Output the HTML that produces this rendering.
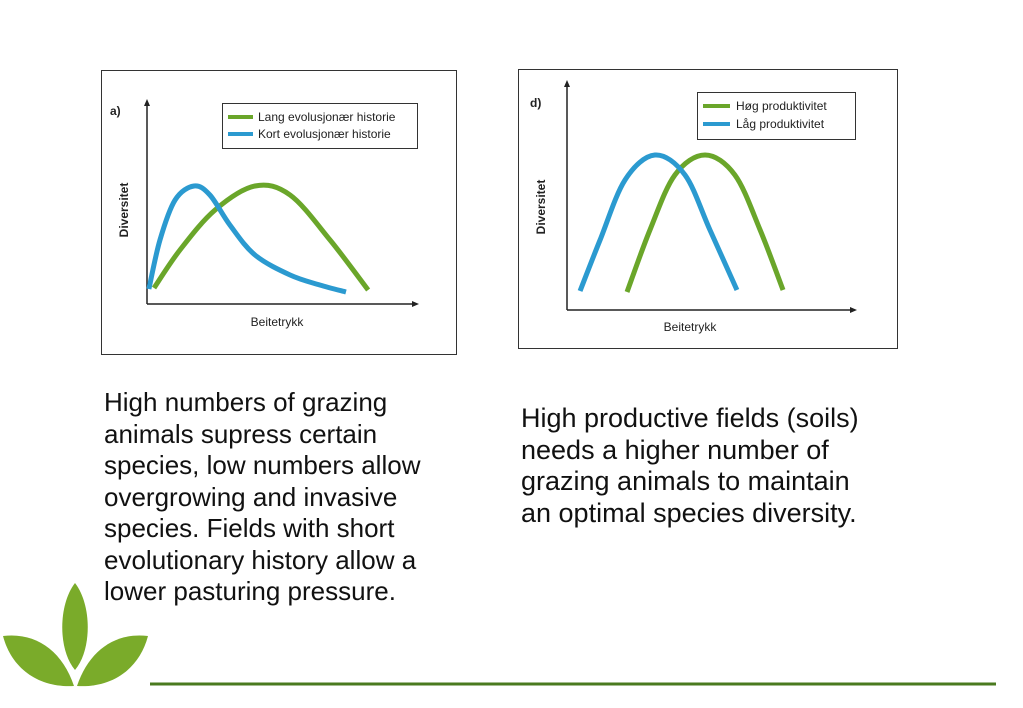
<!DOCTYPE html>
<html><head><meta charset="utf-8"><style>
body{margin:0;width:1023px;height:708px;background:#fff;position:relative;overflow:hidden;font-family:"Liberation Sans",sans-serif}
.txt{position:absolute;line-height:31.5px;color:#111;white-space:nowrap}
</style></head><body>
<svg width="1023" height="708" style="position:absolute;left:0;top:0">
<g id="ca">
<rect x="101.5" y="70.5" width="355" height="284" fill="#fff" stroke="#333"/>
<text x="110" y="115" font-size="12" font-weight="bold" fill="#222">a)</text>
<line x1="147" y1="304" x2="147" y2="104" stroke="#222" stroke-width="1.5"/><path d="M144,106 L147,99 L150,106Z" fill="#222"/>
<line x1="147" y1="304" x2="414" y2="304" stroke="#222" stroke-width="1.5"/><path d="M412,301 L419,304 L412,307Z" fill="#222"/>
<text transform="translate(128,210) rotate(-90)" text-anchor="middle" font-size="12" font-weight="bold" fill="#222">Diversitet</text>
<text x="277" y="326" text-anchor="middle" font-size="12" fill="#222">Beitetrykk</text>
<rect x="222.5" y="103.5" width="195" height="45" fill="#fff" stroke="#333"/>
<line x1="228" y1="117" x2="253" y2="117" stroke="#6aa62a" stroke-width="4"/>
<text x="258" y="121" font-size="12" fill="#222">Lang evolusjonær historie</text>
<line x1="228" y1="134" x2="253" y2="134" stroke="#2b9ad0" stroke-width="4"/>
<text x="258" y="138" font-size="12" fill="#222">Kort evolusjonær historie</text>
</g>
<g id="cd">
<rect x="518.5" y="69.5" width="379" height="279" fill="#fff" stroke="#333"/>
<text x="530" y="107" font-size="12" font-weight="bold" fill="#222">d)</text>
<line x1="567" y1="310" x2="567" y2="85" stroke="#222" stroke-width="1.5"/><path d="M564,87 L567,80 L570,87Z" fill="#222"/>
<line x1="567" y1="310" x2="852" y2="310" stroke="#222" stroke-width="1.5"/><path d="M850,307 L857,310 L850,313Z" fill="#222"/>
<text transform="translate(545,207) rotate(-90)" text-anchor="middle" font-size="12" font-weight="bold" fill="#222">Diversitet</text>
<text x="690" y="331" text-anchor="middle" font-size="12" fill="#222">Beitetrykk</text>
<rect x="697.5" y="92.5" width="158" height="47" fill="#fff" stroke="#333"/>
<line x1="703" y1="106" x2="730" y2="106" stroke="#6aa62a" stroke-width="4"/>
<text x="736" y="110" font-size="12" fill="#222">Høg produktivitet</text>
<line x1="703" y1="124" x2="730" y2="124" stroke="#2b9ad0" stroke-width="4"/>
<text x="736" y="128" font-size="12" fill="#222">Låg produktivitet</text>
</g>
<g>
<path d="M75,583 C58,605 58,650 75,670 C92,650 92,605 75,583Z" fill="#7aab2a"/>
<path d="M3,636 C35,632 62,650 74,686 C40,688 12,670 3,636Z" fill="#7aab2a"/>
<path d="M148,636 C116,632 89,650 77,686 C111,688 139,670 148,636Z" fill="#7aab2a"/>
</g>
<line x1="150" y1="684" x2="996" y2="684" stroke="#4a7a1f" stroke-width="3"/>
</svg>
<div class="txt" style="left:104px;top:387px;font-size:26px">High numbers of grazing<br>animals supress certain<br>species, low numbers allow<br>overgrowing and invasive<br>species. Fields with short<br>evolutionary history allow a<br>lower pasturing pressure.</div>
<div class="txt" style="left:521px;top:403px;font-size:27px">High productive fields (soils)<br>needs a higher number of<br>grazing animals to maintain<br>an optimal species diversity.</div>
<script>
const aBlueX=[0.07,0.48,1.04,1.74,2.33,3.07,4,5.3,6.4,7.37];
const aBlueY=[0.75,3.2,5.2,5.9,5.45,3.95,2.45,1.45,0.95,0.6];
const aGreenX=[0.26,1.22,2.52,4,5.3,6.78,8.19];
const aGreenY=[0.8,2.7,4.7,5.9,5.45,3.2,0.7];
const dBlueX=[0.45,1.14,2,3.03,4.07,4.93,5.86];
const dBlueY=[0.95,3.5,6.5,7.75,6.75,4,1];
const dGreenX=[2.07,2.86,3.72,4.76,5.79,6.66,7.45];
const dGreenY=[0.9,4,6.75,7.75,6.75,4,1];
const NS='http://www.w3.org/2000/svg';
function path(pts){let d='M'+pts[0][0]+','+pts[0][1];
for(let i=0;i<pts.length-1;i++){const p0=pts[Math.max(i-1,0)],p1=pts[i],p2=pts[i+1],p3=pts[Math.min(i+2,pts.length-1)];
d+=' C'+(p1[0]+(p2[0]-p0[0])/6)+','+(p1[1]+(p2[1]-p0[1])/6)+' '+(p2[0]-(p3[0]-p1[0])/6)+','+(p2[1]-(p3[1]-p1[1])/6)+' '+p2[0]+','+p2[1];}
return d;}
function draw(g,xs,ys,sx,sy,color,name){const pts=xs.map((x,i)=>[sx(x),sy(ys[i])]);
const p=document.createElementNS(NS,'path');p.setAttribute('d',path(pts));p.setAttribute('fill','none');
p.setAttribute('stroke',color);p.setAttribute('stroke-width','5');p.setAttribute('stroke-linecap','butt');


document.getElementById(g).appendChild(p);}
const axA=v=>147+v*27, ayA=v=>304-v*20, axD=v=>567+v*29, ayD=v=>310-v*20;
draw('ca',aGreenX,aGreenY,axA,ayA,'#6aa62a','line-lang-evolusjonaer');
draw('ca',aBlueX,aBlueY,axA,ayA,'#2b9ad0','line-kort-evolusjonaer');
draw('cd',dGreenX,dGreenY,axD,ayD,'#6aa62a','line-hog-produktivitet');
draw('cd',dBlueX,dBlueY,axD,ayD,'#2b9ad0','line-lag-produktivitet');
</script>
</body></html>
